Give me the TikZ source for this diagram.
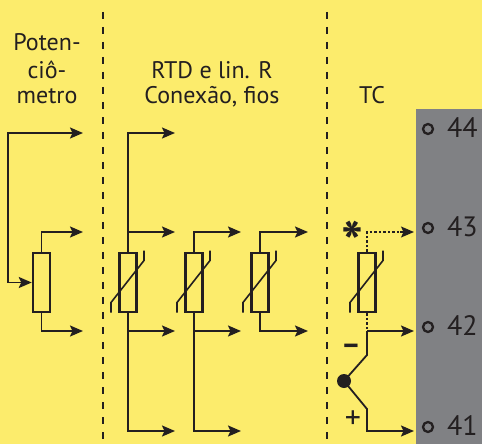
\documentclass[tikz,border=0pt]{standalone}
\usepackage{fontspec}
\setmainfont{PT Sans}
\usetikzlibrary{arrows.meta}
\definecolor{bgy}{HTML}{FCEC6C}
\definecolor{panel}{HTML}{808184}
\definecolor{ink}{HTML}{231F20}
\begin{document}
\begin{tikzpicture}[x=1pt,y=-1pt,
  wire/.style={draw=ink,line width=1.8pt},
  arr/.style={wire,-{Stealth[length=13pt,width=11pt,inset=2.5pt]}},
  dotwire/.style={wire,line width=1.3pt,dash pattern=on 2.5pt off 2pt},
  sep/.style={draw=ink,line width=1.5pt,dash pattern=on 7pt off 8pt},
  res/.style={draw=ink,line width=2.5pt,minimum width=17pt,minimum height=59pt,inner sep=0pt},
  lbl/.style={text=ink,font=\fontsize{24}{28}\selectfont,anchor=base,inner sep=0pt},
  num/.style={text=ink,font=\fontsize{28}{30}\selectfont,anchor=base west,inner sep=0pt},
  term/.style={draw=ink,line width=2.3pt,circle,minimum size=10pt,inner sep=0pt}]
\useasboundingbox (0,0) rectangle (482,444);
\clip (0,0) rectangle (482,444);
\fill[bgy] (0,0) rectangle (482,444);
\fill[panel] (416,109) rectangle (482,444);
% separators
\draw[sep] (103,12) -- (103,444);
\draw[sep] (327,12) -- (327,444);
% headings
\node[lbl] (h1) at (47,51) {Poten-};
\node[lbl] (h2) at (47,78) {ciô-};
\node[lbl] (h3) at (47,103) {metro};
\node[lbl] (h4) at (212,78) {RTD e lin. R};
\node[lbl] (h5) at (212,103) {Conexão, fios};
\node[lbl] (h6) at (372,103) {TC};
% terminals
\foreach \n/\y in {44/133,43/232,42/331,41/431}{
  \coordinate (t\n) at (414,\y);
  \node[term] (c\n) at (428,\y-4) {};
  \node[num] (n\n) at (447,\y+4) {\n};
}
% potentiometer
\node[res] (r0) at (41.5,282.5) {};
\draw[wire,{Stealth[length=13pt,width=11pt,inset=2.5pt]}-{Stealth[length=13pt,width=11pt,inset=2.5pt]}] (83,133) -- (8,133) -- (8,282.5) -- (r0.west);
\draw[arr] (r0.north) -- (41.5,232) -- (83,232);
\draw[arr] (r0.south) -- (41.5,331) -- (83,331);
% RTD 1
\node[res] (r1) at (128,282.5) {};
\draw[arr] (r1.north) -- (128,133) -- (175,133);
\draw[arr] (128,232) -- (175,232);
\draw[arr] (r1.south) -- (128,431) -- (175,431);
\draw[arr] (128,331) -- (175,331);
% RTD 2
\node[res] (r2) at (194,282.5) {};
\draw[arr] (r2.north) -- (194,232) -- (241,232);
\draw[arr] (r2.south) -- (194,431) -- (241,431);
\draw[arr] (194,331) -- (241,331);
% RTD 3
\node[res] (r3) at (260,282.5) {};
\draw[arr] (r3.north) -- (260,232) -- (308,232);
\draw[arr] (r3.south) -- (260,331) -- (308,331);
% TC
\node[res] (r4) at (367,282.5) {};
\foreach \r in {r1,r2,r3,r4}{
  \draw[draw=ink,line width=1.6pt] (\r.center) ++(-17,30) -- ++(0,-10) -- ++(33,-42) -- ++(0,-10);
}
\draw[dotwire] (r4.north) -- (367,232) -- (400,232);
\draw[arr,line width=1.3pt] (400,232) -- (t43);
\draw[dotwire] (r4.south) -- (367,331);
\draw[arr] (367,331) -- (t42);
\node[circle,fill=ink,inner sep=0pt,minimum size=14pt] (j) at (344,381) {};
\draw[wire] (367,331) -- (367,355) -- (j.center);
\draw[arr] (j.center) -- (367,409) -- (367,431) -- (t41);
\node[text=ink,font=\bfseries\fontsize{58}{58}\selectfont,inner sep=0pt,anchor=base] (star) at (352,263) {*};
\node[text=ink,font=\bfseries\fontsize{30}{30}\selectfont,inner sep=0pt,anchor=base] (minus) at (351,354) {–};
\node[text=ink,font=\fontsize{32}{32}\selectfont,inner sep=0pt,anchor=base] (plus) at (353,428) {+};
\end{tikzpicture}
\end{document}
